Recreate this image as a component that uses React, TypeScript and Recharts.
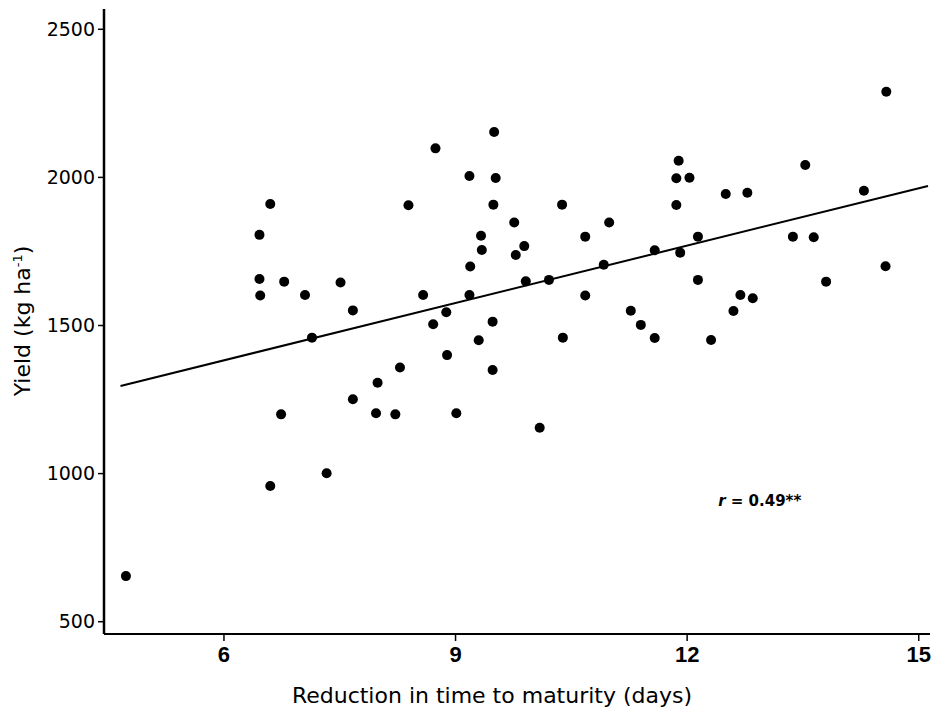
import { ScatterChart, Scatter, XAxis, YAxis, ReferenceLine, ReferenceDot } from "recharts";

// reduction in time to maturity (days) and yield (kg/ha)
const days = [
  4.73, 6.46, 6.46, 6.47, 6.6, 6.6, 6.74, 6.78, 7.05, 7.14, 7.33, 7.51, 7.67, 7.67, 7.97, 7.99, 8.22, 8.28,
  8.39, 8.58, 8.71, 8.74, 8.88, 8.89, 9.01, 9.18, 9.19, 9.18, 9.3, 9.33, 9.34, 9.48, 9.48, 9.49, 9.5, 9.52,
  9.76, 9.78, 9.89, 9.91, 10.09, 10.21, 10.38, 10.39, 10.68, 10.68, 10.92, 10.99, 11.27, 11.4, 11.58, 11.58,
  11.86, 11.86, 11.89, 11.91, 12.03, 12.14, 12.14, 12.31, 12.5, 12.6, 12.69, 12.78, 12.85, 13.37, 13.53,
  13.64, 13.8, 14.29, 14.57, 14.58,
];
const yields = [
  654, 1806, 1657, 1601, 1910, 958, 1200, 1648, 1603, 1459, 1001, 1645, 1551, 1251, 1204, 1307, 1200, 1358,
  1906, 1603, 1504, 2098, 1545, 1400, 1204, 2005, 1699, 1603, 1450, 1803, 1755, 1513, 1350, 1908, 2153, 1998,
  1848, 1738, 1768, 1649, 1155, 1654, 1908, 1459, 1800, 1601, 1705, 1848, 1550, 1502, 1754, 1458,
  1997, 1907, 2056, 1746, 1999, 1800, 1654, 1451, 1944, 1549, 1603, 1948, 1592, 1800, 2042,
  1798, 1648, 1955, 1700, 2289,
];
// fitted line end points
const fitDays = [4.66, 15.12];
const fitYield = [1296, 1971];

const xTicks = [6, 9, 12, 15];
const yTicks = [500, 1000, 1500, 2000, 2500];
const rLabel = { d: 12.94, y: 908, text: "0.49**" };

const points = days.map((d, i) => ({ d, y: yields[i] }));

const XLabel = () => (
  <text x={492} y={703} textAnchor="middle" fontSize={22} fontFamily="DejaVu Sans" fill="#000">
    Reduction in time to maturity (days)
  </text>
);

const YLabel = () => (
  <text x={30} y={321} transform="rotate(-90 30 321)" textAnchor="middle" fontSize={22} fontFamily="DejaVu Sans" fill="#000">
    Yield (kg ha
    <tspan dy={-8} fontSize={13}>-1</tspan>
    <tspan dy={8}>)</tspan>
  </text>
);

const RText = ({ viewBox }: any) => (
  <text x={viewBox.x} y={viewBox.y} textAnchor="middle" dominantBaseline="central" fontSize={15} fontFamily="DejaVu Sans" fontWeight="bold" fill="#000">
    <tspan fontStyle="italic">r</tspan> = {rLabel.text}
  </text>
);

export default function App() {
  return (
    <>
      <style>{"body{margin:0;background:#fff}"}</style>
      <ScatterChart width={939} height={711} margin={{ top: 9, right: 9, bottom: 0, left: 44 }}>
        <XAxis
          type="number"
          dataKey="d"
          domain={[4.446, 15.146]}
          ticks={xTicks}
          allowDataOverflow
          height={77}
          tickSize={7}
          tickMargin={5}
          axisLine={{ stroke: "#000", strokeWidth: 2 }}
          tickLine={{ stroke: "#000", strokeWidth: 1.5 }}
          tick={{ fill: "#000", fontSize: 22, fontFamily: "Liberation Sans Narrow, Liberation Sans", fontWeight: "bold" }}
          label={XLabel}
        />
        <YAxis
          type="number"
          dataKey="y"
          domain={[458.5, 2568.5]}
          ticks={yTicks}
          allowDataOverflow
          width={60}
          tickSize={6}
          tickMargin={3}
          axisLine={{ stroke: "#000", strokeWidth: 2.5 }}
          tickLine={{ stroke: "#000", strokeWidth: 1.5 }}
          tick={{ fill: "#000", fontSize: 19, fontFamily: "DejaVu Sans" }}
          label={YLabel}
        />
        <ReferenceLine
          segment={[
            { x: fitDays[0], y: fitYield[0] },
            { x: fitDays[1], y: fitYield[1] },
          ]}
          stroke="#000"
          strokeWidth={2}
        />
        <Scatter data={points} fill="#000" shape={(p: any) => <circle cx={p.cx} cy={p.cy} r={5} fill="#000" />} isAnimationActive={false} />
        <ReferenceDot x={rLabel.d} y={rLabel.y} r={0} stroke="none" fill="none" label={RText} />
      </ScatterChart>
    </>
  );
}
